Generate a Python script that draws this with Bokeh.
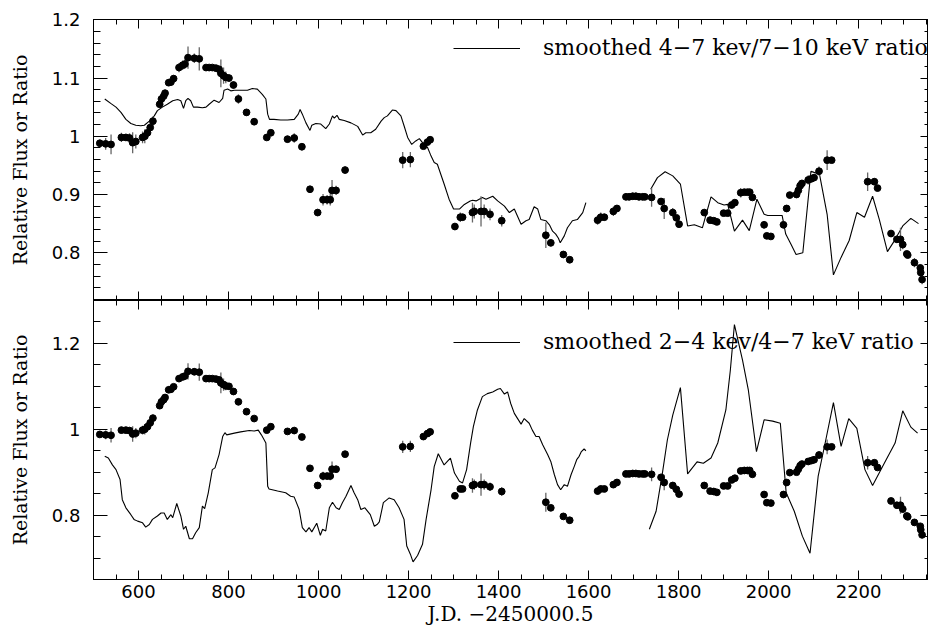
from bokeh.plotting import figure
from bokeh.models import (Range1d, LinearAxis, SingleIntervalTicker, CustomJSTickFormatter,
                          Legend, LegendItem)
from bokeh.layouts import column
from bokeh.embed import file_html
from bokeh.resources import INLINE
import numpy as np

# ---------------- data ----------------
jd = [514, 527, 539, 562, 572, 580, 587, 594, 609, 614, 620, 626, 632, 647, 651, 656, 659,
      667, 672, 678, 690, 698, 703, 710, 724, 735, 750, 757, 764, 772, 779, 783, 789, 794,
      801, 811, 822, 840, 857, 885, 894, 931, 946, 963, 981, 998, 1010, 1019, 1026, 1030,
      1039, 1059, 1187, 1204, 1233, 1242, 1248, 1303, 1315, 1320, 1342, 1346, 1361, 1368,
      1381, 1407, 1505, 1516, 1544, 1558, 1620, 1627, 1635, 1655, 1663, 1683, 1690, 1698,
      1705, 1712, 1720, 1725, 1740, 1761, 1768, 1787, 1795, 1801, 1857, 1870, 1878, 1885,
      1900, 1909, 1918, 1925, 1938, 1946, 1953, 1958, 1964, 1990, 1996, 2005, 2033, 2040,
      2047, 2062, 2066, 2070, 2074, 2088, 2095, 2101, 2112, 2130, 2140, 2220, 2235, 2242,
      2272, 2285, 2293, 2298, 2307, 2309, 2324, 2337, 2338, 2341]
flux = [0.988, 0.987, 0.986, 0.998, 0.998, 0.997, 0.989, 0.991, 0.998, 1.000, 1.006, 1.015,
        1.026, 1.055, 1.064, 1.069, 1.074, 1.092, 1.093, 1.099, 1.118, 1.122, 1.124, 1.135,
        1.134, 1.133, 1.118, 1.118, 1.118, 1.117, 1.115, 1.108, 1.104, 1.101, 1.100, 1.088,
        1.064, 1.041, 1.025, 0.998, 1.006, 0.995, 0.997, 0.982, 0.909, 0.869, 0.891, 0.891,
        0.891, 0.907, 0.907, 0.942, 0.959, 0.960, 0.983, 0.990, 0.994, 0.845, 0.861, 0.861,
        0.869, 0.871, 0.871, 0.871, 0.866, 0.855, 0.830, 0.817, 0.797, 0.788, 0.856, 0.861,
        0.861, 0.871, 0.876, 0.896, 0.896, 0.897, 0.897, 0.896, 0.896, 0.896, 0.895, 0.888,
        0.876, 0.869, 0.860, 0.849, 0.869, 0.856, 0.855, 0.853, 0.868, 0.868, 0.882, 0.886,
        0.903, 0.904, 0.904, 0.904, 0.895, 0.848, 0.829, 0.828, 0.848, 0.876, 0.899, 0.900,
        0.907, 0.915, 0.919, 0.925, 0.927, 0.929, 0.940, 0.959, 0.959, 0.922, 0.922, 0.911,
        0.833, 0.823, 0.823, 0.814, 0.798, 0.796, 0.783, 0.774, 0.766, 0.754]
flux_err = [0.006, 0.010, 0.017, 0.008, 0.006, 0.008, 0.018, 0.012, 0.010, 0.012, 0.010, 0.008,
            0.008, 0.006, 0.006, 0.006, 0.006, 0.004, 0.004, 0.006, 0.008, 0.008, 0.008, 0.019,
            0.008, 0.020, 0.004, 0.004, 0.004, 0.004, 0.006, 0.024, 0.014, 0.010, 0.006, 0.006,
            0.008, 0.006, 0.006, 0.005, 0.004, 0.006, 0.008, 0.006, 0.005, 0.006, 0.010, 0.008,
            0.010, 0.018, 0.008, 0.006, 0.014, 0.013, 0.005, 0.006, 0.006, 0.006, 0.008, 0.006,
            0.017, 0.012, 0.026, 0.012, 0.010, 0.010, 0.022, 0.006, 0.004, 0.004, 0.008, 0.008,
            0.006, 0.008, 0.004, 0.006, 0.006, 0.006, 0.006, 0.006, 0.006, 0.004, 0.016, 0.004,
            0.018, 0.008, 0.004, 0.006, 0.006, 0.006, 0.004, 0.004, 0.004, 0.004, 0.004, 0.004,
            0.008, 0.004, 0.004, 0.004, 0.004, 0.006, 0.004, 0.004, 0.006, 0.006, 0.004, 0.004,
            0.006, 0.008, 0.006, 0.008, 0.006, 0.006, 0.008, 0.017, 0.004, 0.016, 0.006, 0.004,
            0.006, 0.006, 0.020, 0.008, 0.004, 0.004, 0.008, 0.006, 0.006, 0.008]

# smoothed 4-7 keV / 7-10 keV ratio (two segments)
hard_jd_a = [525, 539, 550, 561, 572, 583, 594, 605, 613, 624, 635, 642, 653, 664, 676, 687,
             694, 700, 705, 710, 716, 722, 731, 742, 750, 757, 768, 779, 787, 790, 798, 805,
             813, 827, 842, 853, 864, 875, 883, 887, 891, 901, 916, 931, 946, 955, 959, 964,
             972, 981, 985, 994, 1005, 1016, 1024, 1031, 1035, 1041, 1046, 1057, 1072, 1087,
             1098, 1105, 1116, 1127, 1139, 1146, 1153, 1164, 1172, 1183, 1190, 1198, 1207,
             1216, 1224, 1231, 1242, 1249, 1257, 1264, 1279, 1290, 1300, 1313, 1324, 1337,
             1342, 1350, 1357, 1364, 1372, 1387, 1398, 1413, 1424, 1435, 1450, 1461, 1468,
             1479, 1487, 1494, 1505, 1513, 1520, 1527, 1533, 1537, 1546, 1553, 1564, 1575,
             1587, 1594]
hard_a = [1.064, 1.056, 1.050, 1.041, 1.029, 1.022, 1.019, 1.018, 1.019, 1.026, 1.035, 1.044,
          1.050, 1.055, 1.061, 1.063, 1.061, 1.048, 1.061, 1.065, 1.061, 1.050, 1.050, 1.049,
          1.050, 1.055, 1.062, 1.058, 1.065, 1.079, 1.081, 1.078, 1.079, 1.079, 1.079, 1.082,
          1.081, 1.072, 1.064, 1.038, 1.029, 1.029, 1.028, 1.028, 1.029, 1.038, 1.046, 1.038,
          1.023, 1.010, 1.019, 1.022, 1.021, 1.013, 1.021, 1.035, 1.031, 1.036, 1.029, 1.027,
          1.023, 1.017, 1.002, 1.006, 1.006, 1.012, 1.026, 1.032, 1.035, 1.045, 1.044, 1.035,
          1.018, 0.998, 0.986, 0.992, 0.996, 0.989, 0.981, 0.968, 0.955, 0.952, 0.918, 0.892,
          0.875, 0.875, 0.883, 0.889, 0.890, 0.889, 0.892, 0.895, 0.892, 0.897, 0.889, 0.880,
          0.869, 0.875, 0.849, 0.855, 0.857, 0.879, 0.875, 0.857, 0.855, 0.848, 0.837, 0.832,
          0.825, 0.817, 0.829, 0.843, 0.855, 0.857, 0.869, 0.886]
hard_jd_b = [1738, 1753, 1770, 1787, 1804, 1820, 1835, 1853, 1872, 1887, 1901, 1909, 1924,
             1942, 1957, 1974, 1990, 1998, 2013, 2030, 2038, 2050, 2061, 2076, 2094, 2101,
             2113, 2130, 2144, 2161, 2179, 2196, 2213, 2231, 2246, 2264, 2279, 2298, 2316, 2333]
hard_b = [0.909, 0.929, 0.939, 0.932, 0.918, 0.846, 0.848, 0.843, 0.896, 0.886, 0.882, 0.883,
          0.837, 0.856, 0.838, 0.892, 0.866, 0.864, 0.864, 0.864, 0.832, 0.814, 0.797, 0.800,
          0.940, 0.938, 0.935, 0.866, 0.762, 0.792, 0.821, 0.869, 0.861, 0.897, 0.857, 0.802,
          0.820, 0.846, 0.859, 0.850]

# smoothed 2-4 keV / 4-7 keV ratio (two segments)
soft_jd_a = [525, 533, 542, 550, 559, 564, 572, 583, 590, 598, 609, 616, 624, 631, 642, 650,
             657, 664, 672, 676, 685, 694, 700, 705, 713, 720, 727, 735, 742, 747, 755, 764,
             770, 779, 787, 792, 796, 813, 827, 846, 857, 866, 873, 883, 887, 890, 909, 927,
             938, 946, 957, 964, 972, 979, 985, 996, 1004, 1009, 1016, 1024, 1031, 1039, 1046,
             1053, 1061, 1072, 1079, 1087, 1094, 1103, 1115, 1124, 1130, 1135, 1144, 1157,
             1168, 1179, 1190, 1196, 1204, 1210, 1220, 1231, 1239, 1250, 1257, 1266, 1279,
             1293, 1302, 1313, 1320, 1329, 1338, 1344, 1353, 1364, 1375, 1387, 1398, 1404,
             1413, 1420, 1427, 1435, 1450, 1457, 1468, 1475, 1483, 1490, 1498, 1509, 1516,
             1524, 1531, 1538, 1546, 1553, 1561, 1568, 1574, 1579, 1584, 1590, 1594]
soft_a = [0.937, 0.933, 0.917, 0.906, 0.883, 0.836, 0.817, 0.801, 0.790, 0.786, 0.782, 0.772,
          0.778, 0.790, 0.798, 0.805, 0.805, 0.790, 0.801, 0.794, 0.827, 0.798, 0.767, 0.774,
          0.745, 0.745, 0.759, 0.771, 0.821, 0.815, 0.852, 0.906, 0.910, 0.941, 0.983, 0.992,
          0.987, 0.991, 0.994, 0.997, 0.996, 0.998, 0.987, 0.968, 0.867, 0.861, 0.856, 0.852,
          0.844, 0.842, 0.813, 0.771, 0.761, 0.771, 0.761, 0.781, 0.753, 0.767, 0.763, 0.817,
          0.830, 0.817, 0.813, 0.829, 0.844, 0.869, 0.852, 0.836, 0.813, 0.817, 0.801, 0.774,
          0.778, 0.784, 0.829, 0.840, 0.836, 0.817, 0.790, 0.728, 0.709, 0.691, 0.706, 0.732,
          0.790, 0.859, 0.913, 0.943, 0.917, 0.933, 0.898, 0.879, 0.875, 0.906, 0.969, 1.006,
          1.045, 1.076, 1.083, 1.087, 1.093, 1.095, 1.082, 1.087, 1.060, 1.037, 1.012, 1.025,
          1.014, 0.998, 0.983, 0.983, 0.964, 0.941, 0.925, 0.894, 0.871, 0.859, 0.871, 0.867,
          0.894, 0.913, 0.930, 0.937, 0.948, 0.954, 0.950]
soft_jd_b = [1735, 1750, 1764, 1775, 1787, 1804, 1820, 1841, 1855, 1872, 1887, 1905, 1915,
             1924, 1942, 1955, 1973, 1990, 2009, 2026, 2039, 2057, 2075, 2092, 2110, 2127,
             2144, 2161, 2178, 2196, 2214, 2231, 2257, 2281, 2298, 2316, 2331]
soft_b = [0.767, 0.809, 0.898, 0.975, 1.033, 1.097, 0.896, 0.924, 0.921, 0.933, 0.968, 1.045,
          1.138, 1.244, 1.161, 1.091, 0.948, 1.022, 1.019, 1.014, 0.852, 0.809, 0.751, 0.711,
          0.890, 0.975, 1.062, 0.960, 1.025, 1.002, 0.906, 0.869, 0.921, 0.968, 1.043, 1.005,
          0.991]

hard_label = "smoothed 4\u22127 kev/7\u221210 keV ratio"
soft_label = "smoothed 2\u22124 kev/4\u22127 keV ratio"
x_title = "J.D. \u22122450000.5"
y_title = "Relative Flux or Ratio"

# ---------------- plotting ----------------
jd_a = np.array(jd, dtype=float)
fl_a = np.array(flux)
er_a = np.array(flux_err)

xr = Range1d(500, 2353)
TICK_FONT = "DejaVu Sans"
TITLE_FONT = "DejaVu Serif"
fmt = CustomJSTickFormatter(code="return String(Math.round(tick*100)/100);")


def style_axis(ax, maj, mnr, labels=False):
    ax.major_tick_in = maj
    ax.major_tick_out = 0
    ax.minor_tick_in = mnr
    ax.minor_tick_out = 0
    ax.axis_line_color = "black"
    ax.major_tick_line_color = "black"
    ax.minor_tick_line_color = "black"
    if labels:
        ax.major_label_text_font = TICK_FONT
        ax.major_label_text_font_size = "18px"
        ax.major_label_text_color = "black"
    else:
        ax.major_label_text_font_size = "0px"
        ax.major_label_standoff = 0
        ax.major_label_text_color = None


def make_panel(height, yr, yint, ynm, mtop, mbot, bottom_labels, hx, hy, label, loc):
    p = figure(width=929, height=height, x_range=xr, y_range=yr,
               output_backend="svg", toolbar_location=None,
               x_axis_location=None, y_axis_location=None,
               min_border_left=93, min_border_right=2,
               min_border_top=mtop, min_border_bottom=mbot)
    p.grid.visible = False
    p.outline_line_color = "black"
    p.background_fill_color = "white"
    p.border_fill_color = "white"

    left = LinearAxis(ticker=SingleIntervalTicker(interval=yint, num_minor_ticks=ynm),
                      formatter=fmt)
    style_axis(left, 14, 7, labels=True)
    left.major_label_standoff = 13
    left.axis_label = y_title
    left.axis_label_text_font = TITLE_FONT
    left.axis_label_text_font_size = "19px"
    left.axis_label_text_font_style = "normal"
    left.axis_label_text_color = "black"
    left.axis_label_standoff = 18
    p.add_layout(left, "left")

    right = LinearAxis(ticker=SingleIntervalTicker(interval=yint, num_minor_ticks=ynm))
    style_axis(right, 7, 3)
    p.add_layout(right, "right")

    above = LinearAxis(ticker=SingleIntervalTicker(interval=200, num_minor_ticks=4))
    style_axis(above, 9, 5)
    p.add_layout(above, "above")

    below = LinearAxis(ticker=SingleIntervalTicker(interval=200, num_minor_ticks=4))
    if bottom_labels:
        style_axis(below, 9, 5, labels=True)
        below.major_label_standoff = 5
        below.axis_label = x_title
        below.axis_label_text_font = TITLE_FONT
        below.axis_label_text_font_size = "20px"
        below.axis_label_text_font_style = "normal"
        below.axis_label_text_color = "black"
        below.axis_label_standoff = 1
    else:
        style_axis(below, 9, 5)
    p.add_layout(below, "below")

    ml = p.multi_line(xs=hx, ys=hy, line_color="black", line_width=1.1)

    p.segment(x0=jd_a, y0=fl_a - er_a, x1=jd_a, y1=fl_a + er_a,
              line_color="#666666", line_width=1.3)
    p.segment(x0=jd_a - 5, y0=fl_a, x1=jd_a + 5, y1=fl_a,
              line_color="black", line_width=1.5)
    p.scatter(jd_a, fl_a, size=6.8, marker="circle", fill_color="black", line_color="black")

    leg = Legend(items=[LegendItem(label=label, renderers=[ml])], location=loc,
                 border_line_color=None, background_fill_alpha=0, padding=0, margin=0,
                 spacing=0, glyph_width=67, glyph_height=24, label_height=24,
                 label_standoff=23, label_text_font=TITLE_FONT,
                 label_text_font_size="22px", label_text_color="black")
    p.add_layout(leg)
    return p


p1 = make_panel(300, Range1d(0.718, 1.2005), 0.1, 5, 19, 0, False,
                [hard_jd_a, hard_jd_b], [hard_a, hard_b], hard_label, (360, 240))
p2 = make_panel(329, Range1d(0.65, 1.3), 0.2, 4, 0, 50, True,
                [soft_jd_a, soft_jd_b], [soft_a, soft_b], soft_label, (360, 225))

layout = column(p1, p2, spacing=0)
open("out.html", "w").write(file_html(layout, INLINE))
